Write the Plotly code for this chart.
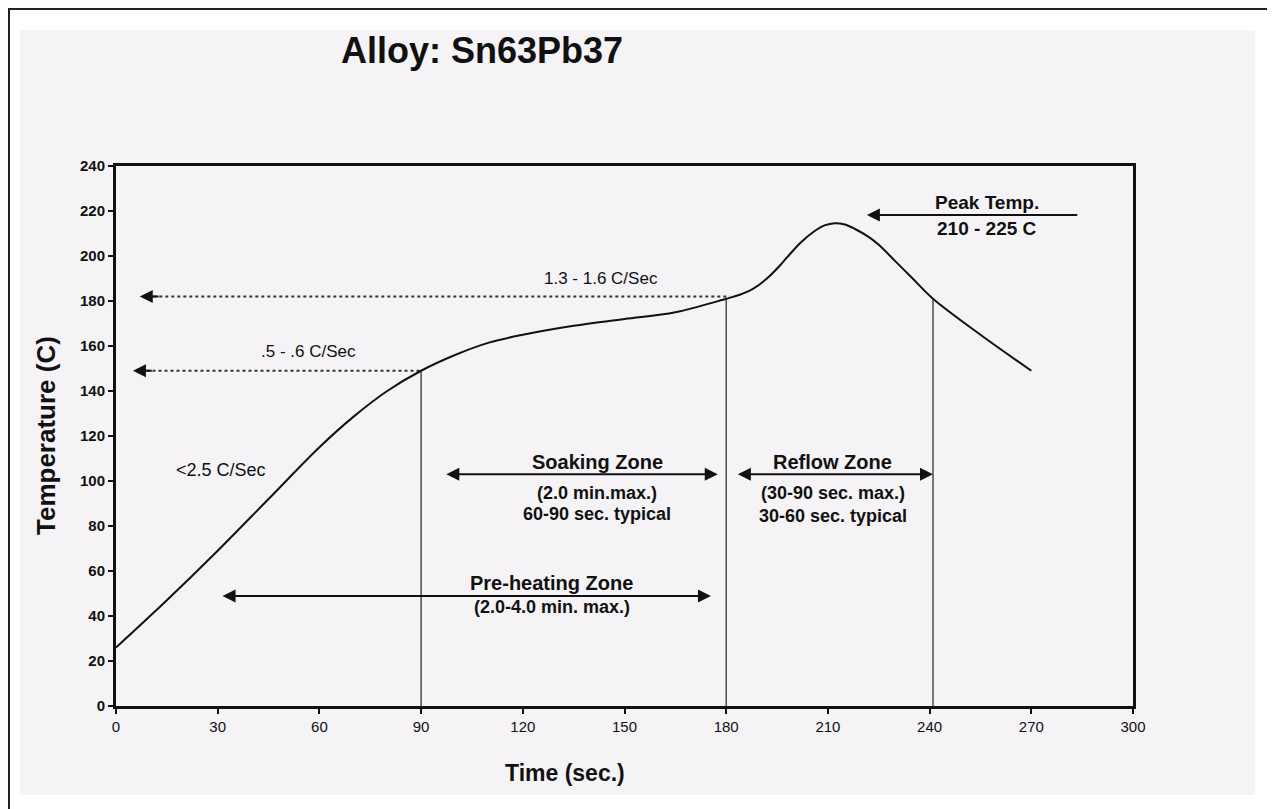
import plotly.graph_objects as go

# ---- data ----
time_s = [0, 15, 30, 45, 60, 70, 80, 90, 100, 110, 120, 135, 150, 165, 180, 184, 188, 192, 196, 198, 202, 206,
          209, 212, 215, 218, 222, 225, 230, 235, 241, 255, 270]
temp_c = [26, 47, 69, 92, 115, 128.5, 140, 149, 156, 161.5, 165, 169, 172, 175, 181, 182.8, 185.5, 190, 196, 199.5,
          206, 211, 213.6, 214.6, 214, 212, 208.5, 205, 197.5, 190, 181, 165, 149]

x_ticks = [0, 30, 60, 90, 120, 150, 180, 210, 240, 270, 300]
y_ticks = [0, 20, 40, 60, 80, 100, 120, 140, 160, 180, 200, 220, 240]

# zone boundary markers (time, temperature on curve)
boundary_t = [90, 180, 241]
boundary_temp = [149, 181, 181]

# ramp-rate dotted arrows
rate_from_t = [90, 181]
rate_level = [149, 182]
rate_to_t = [5, 7]
rate_labels = [".5 - .6 C/Sec", "1.3 - 1.6 C/Sec"]
rate_label_t = [56.8, 143]
rate_label_temp = [157.5, 189.8]

FONT = "Liberation Sans, Arial, sans-serif"
BLACK = "#111111"

fig = go.Figure()

for t, tc in zip(boundary_t, boundary_temp):
    fig.add_trace(go.Scatter(x=[t, t], y=[0, tc], mode="lines",
                             line=dict(color="#333333", width=1.3),
                             hoverinfo="skip", showlegend=False))

for f, lv, to in zip(rate_from_t, rate_level, rate_to_t):
    fig.add_trace(go.Scatter(x=[to + 4, f], y=[lv, lv], mode="lines",
                             line=dict(color="#333333", width=2, dash="dot"),
                             hoverinfo="skip", showlegend=False))

fig.add_trace(go.Scatter(x=time_s, y=temp_c, mode="lines",
                         line=dict(color=BLACK, width=2, shape="spline", smoothing=1.0),
                         hoverinfo="skip", showlegend=False))

annotations = []

for lv, to in zip(rate_level, rate_to_t):
    annotations.append(dict(x=to, y=lv, ax=to + 6, ay=lv, xref="x", yref="y", axref="x", ayref="y",
                            text="", showarrow=True, arrowhead=2, arrowsize=1.3, arrowwidth=2,
                            arrowcolor=BLACK))

for txt, tx, ty in zip(rate_labels, rate_label_t, rate_label_temp):
    annotations.append(dict(x=tx, y=ty, xref="x", yref="y", text=txt, showarrow=False,
                            font=dict(family=FONT, size=17, color=BLACK)))

annotations.append(dict(x=31, y=105, xref="x", yref="y", text="<2.5 C/Sec", showarrow=False,
                        font=dict(family=FONT, size=18, color=BLACK)))

zone_arrows = [
    (97, 177.5, 103),   # soaking
    (183, 241, 103),    # reflow
    (31, 175.5, 48.9),  # pre-heating
]
for x0, x1, yy in zone_arrows:
    annotations.append(dict(x=x1, y=yy, ax=x0, ay=yy, xref="x", yref="y", axref="x", ayref="y",
                            text="", showarrow=True, arrowhead=2, arrowside="end+start",
                            arrowsize=1.3, arrowwidth=2, arrowcolor=BLACK))

annotations.append(dict(x=221.5, y=218.2, ax=284, ay=218.2, xref="x", yref="y", axref="x", ayref="y",
                        text="", showarrow=True, arrowhead=2, arrowsize=1.3, arrowwidth=2,
                        arrowcolor=BLACK))

def bold(t, x, y, size=19):
    annotations.append(dict(x=x, y=y, xref="x", yref="y", text="<b>" + t + "</b>", showarrow=False,
                            font=dict(family=FONT, size=size, color=BLACK)))

bold("Soaking Zone", 142, 108.6, 20)
bold("(2.0 min.max.)", 142, 94.7, 18)
bold("60-90 sec. typical", 142, 85.3, 18)
bold("Reflow Zone", 211.5, 108.6, 20)
bold("(30-90 sec. max.)", 211.5, 94.7, 18)
bold("30-60 sec. typical", 211.5, 84.6, 18)
bold("Pre-heating Zone", 128.5, 54.8, 20)
bold("(2.0-4.0 min. max.)", 128.5, 44, 18)
bold("Peak Temp.", 257, 223.8, 19)
bold("210 - 225 C", 257, 212.2, 19)

# title and axis titles
annotations.append(dict(x=0.36, y=1.2148, xref="paper", yref="paper", xanchor="center", yanchor="middle",
                        text="<b>Alloy: Sn63Pb37</b>",
                        showarrow=False, font=dict(family=FONT, size=36, color=BLACK)))
annotations.append(dict(x=0.4415, y=-0.124, xref="paper", yref="paper", xanchor="center", yanchor="middle",
                        text="<b>Time (sec.)</b>",
                        showarrow=False, font=dict(family=FONT, size=23, color=BLACK)))
annotations.append(dict(x=-0.0688, y=0.5, xref="paper", yref="paper", xanchor="center", yanchor="middle",
                        text="<b>Temperature (C)</b>", textangle=-90,
                        showarrow=False, font=dict(family=FONT, size=26, color=BLACK)))

shapes = [
    dict(type="rect", xref="paper", yref="paper", x0=-0.0944, x1=1.12, y0=-0.1648, y1=1.2519,
         line=dict(width=0), fillcolor="#f5f3f6", layer="below"),
    dict(type="rect", xref="paper", yref="paper", x0=-0.1052, x1=1.1347, y0=-0.3, y1=1.2907,
         line=dict(color="#222222", width=2), fillcolor="rgba(0,0,0,0)", layer="below"),
]

fig.update_layout(
    width=1275, height=809,
    margin=dict(l=108, r=150, t=158, b=111),
    paper_bgcolor="#ffffff",
    plot_bgcolor="#f7f5f8",
    showlegend=False,
    annotations=annotations,
    shapes=shapes,
    font=dict(family=FONT, color=BLACK),
)

fig.update_xaxes(
    range=[0, 300], tickvals=x_ticks, ticktext=[str(v) for v in x_ticks],
    showgrid=False, zeroline=False,
    showline=True, linecolor=BLACK, linewidth=3, mirror=True,
    ticks="outside", ticklen=5, tickwidth=1.5, tickcolor=BLACK,
    tickfont=dict(family=FONT, size=15, color=BLACK),
)
fig.update_yaxes(
    range=[0, 240], tickvals=y_ticks, ticktext=[str(v) for v in y_ticks],
    showgrid=False, zeroline=False,
    showline=True, linecolor=BLACK, linewidth=3, mirror=True,
    ticks="outside", ticklen=5, tickwidth=2, tickcolor=BLACK,
    tickfont=dict(family=FONT, size=15, color=BLACK, weight="bold"),
)

fig.write_html("out.html")
